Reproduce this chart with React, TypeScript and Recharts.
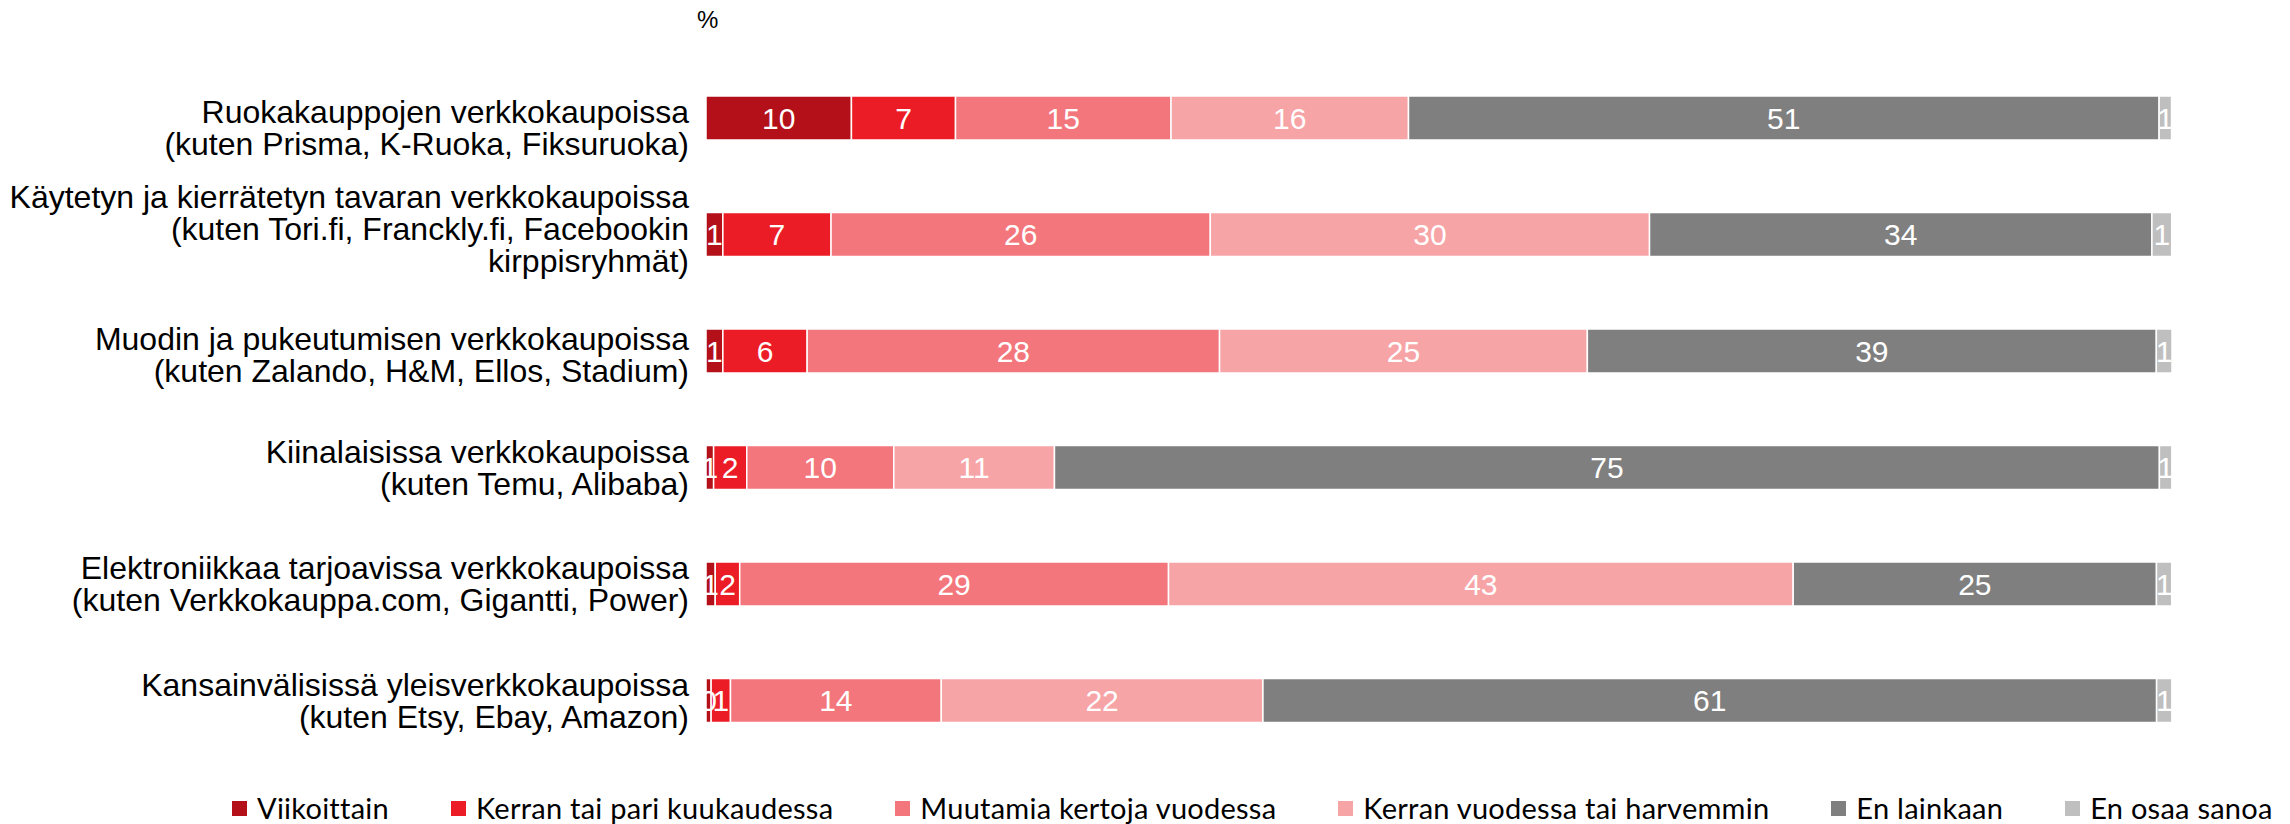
import React from 'react';
import { BarChart, Bar, XAxis, YAxis, LabelList } from 'recharts';

// Category labels (line breaks as in the original)
const categories = [
  'Ruokakauppojen verkkokaupoissa\n(kuten Prisma, K-Ruoka, Fiksuruoka)',
  'Käytetyn ja kierrätetyn tavaran verkkokaupoissa\n(kuten Tori.fi, Franckly.fi, Facebookin\nkirppisryhmät)',
  'Muodin ja pukeutumisen verkkokaupoissa\n(kuten Zalando, H&M, Ellos, Stadium)',
  'Kiinalaisissa verkkokaupoissa\n(kuten Temu, Alibaba)',
  'Elektroniikkaa tarjoavissa verkkokaupoissa\n(kuten Verkkokauppa.com, Gigantti, Power)',
  'Kansainvälisissä yleisverkkokaupoissa\n(kuten Etsy, Ebay, Amazon)',
];

// Shares in %
const viikoittain = [9.92, 1.15, 1.15, 0.52, 0.63, 0.35];
const kerranTaiPari = [7.1, 7.38, 5.75, 2.26, 1.67, 1.32];
const muutamia = [14.7, 25.87, 28.13, 10.03, 29.25, 14.38];
const kerranVuodessa = [16.2, 29.96, 25.09, 10.96, 42.61, 21.94];
const enLainkaan = [51.2, 34.27, 38.81, 75.37, 24.78, 60.96];
const enOsaa = [0.85, 1.35, 1.08, 0.85, 1.04, 1.04];

const series = [
  { key: 'viikoittain', name: 'Viikoittain', color: '#B41019', values: viikoittain },
  { key: 'kerranTaiPari', name: 'Kerran tai pari kuukaudessa', color: '#EC1C26', values: kerranTaiPari },
  { key: 'muutamia', name: 'Muutamia kertoja vuodessa', color: '#F3767C', values: muutamia },
  { key: 'kerranVuodessa', name: 'Kerran vuodessa tai harvemmin', color: '#F7A4A7', values: kerranVuodessa },
  { key: 'enLainkaan', name: 'En lainkaan', color: '#7F7F7F', values: enLainkaan },
  { key: 'enOsaa', name: 'En osaa sanoa', color: '#BFBFBF', values: enOsaa },
];

const chartData = categories.map((name, i) => {
  const row: Record<string, string | number> = { name };
  series.forEach((s) => {
    row[s.key] = s.values[i];
  });
  return row;
});

const FONT = '"Liberation Sans", Arial, sans-serif';

// the original's label boxes don't sit exactly on the bar centres
const tickNudge = [10, -6, 4, 0, 0, 0];

function CategoryTick(props: any) {
  const { x, y, payload, index } = props;
  const lines = String(payload.value).split('\n');
  const lh = 32;
  const shift = tickNudge[index] || 0;
  return (
    <text x={x} y={y + shift} textAnchor="end" fill="#000" fontSize={32} fontFamily={FONT}>
      {lines.map((line, i) => (
        <tspan key={i} x={x} dy={i === 0 ? -((lines.length - 1) * lh) / 2 + 11 : lh}>
          {line}
        </tspan>
      ))}
    </text>
  );
}

export default function App() {
  return (
    <div style={{ position: 'relative', width: 2290, height: 824, background: '#fff' }}>
      <style>{'body{margin:0}'}</style>
      <div
        style={{
          position: 'absolute',
          left: 697,
          top: 6,
          fontFamily: FONT,
          fontSize: 24,
          color: '#000',
        }}
      >
        %
      </div>
      <BarChart
        width={2290}
        height={824}
        data={chartData}
        layout="vertical"
        margin={{ top: 60, right: 118, bottom: 65, left: 0 }}
        barSize={44}
      >
        <XAxis type="number" domain={[0, 100]} allowDataOverflow hide />
        <YAxis
          type="category"
          dataKey="name"
          width={706}
          axisLine={false}
          tickLine={false}
          tickSize={0}
          tickMargin={17}
          interval={0}
          tick={<CategoryTick />}
        />
        {series.map((s) => (
          <Bar
            key={s.key}
            dataKey={s.key}
            name={s.name}
            stackId="a"
            fill={s.color}
            stroke="#fff"
            strokeWidth={1.5}
            isAnimationActive={false}
          >
            <LabelList
              dataKey={s.key}
              position="center"
              fill="#fff"
              fontSize={30}
              fontFamily={FONT}
              formatter={(v: any) => Math.round(Number(v))}
            />
          </Bar>
        ))}
      </BarChart>
      <div
        style={{
          position: 'absolute',
          left: 232,
          top: 792,
          display: 'flex',
          alignItems: 'center',
          gap: 62,
          fontFamily: 'Lato, "Open Sans", sans-serif',
          fontSize: 29,
          letterSpacing: '0.25px',
          lineHeight: '32px',
          color: '#000',
          whiteSpace: 'nowrap',
        }}
      >
        {series.map((s) => (
          <div key={s.key} style={{ display: 'flex', alignItems: 'center' }}>
            <span style={{ width: 15, height: 15, background: s.color, marginRight: 10, display: 'inline-block' }} />
            <span>{s.name}</span>
          </div>
        ))}
      </div>
    </div>
  );
}
